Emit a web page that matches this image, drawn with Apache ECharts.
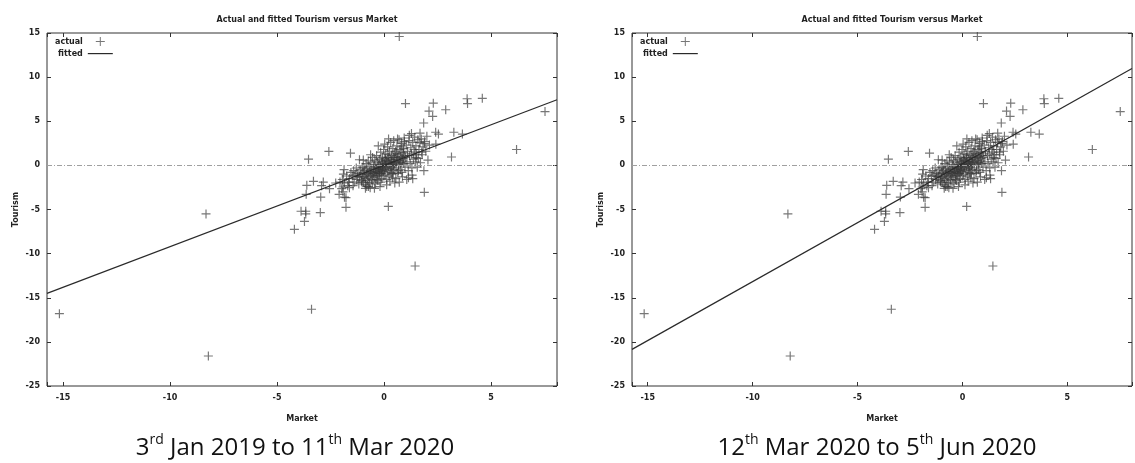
<!DOCTYPE html>
<html><head><meta charset="utf-8">
<script src="https://cdn.jsdelivr.net/npm/echarts@6/dist/echarts.min.js"></script>
<style>html,body{margin:0;padding:0;background:#fff}#c{width:1135px;height:463px}</style>
</head><body><div id="c"></div>
<script>
// ---------- data ----------
const chartTitle = 'Actual and fitted Tourism versus Market';
const xName = 'Market';
const yName = 'Tourism';
const subtitleLeft = '3{sup|rd} Jan 2019 to 11{sup|th} Mar 2020';
const subtitleRight = '12{sup|th} Mar 2020 to 5{sup|th} Jun 2020';
const xRange = [-15.75, 8.08];
const yRange = [-25, 15];
const yInterval = 5;

// outlying observations (Market, Tourism)
const actualOutliers = [
  [0.71,14.6],[1.0,7.0],[2.3,7.05],[2.88,6.3],[3.88,7.55],[3.9,7.0],[4.59,7.6],[2.1,6.15],[2.27,5.55],
  [1.85,4.8],[7.52,6.1],[6.19,1.8],[3.15,0.95],[3.26,3.75],[3.66,3.55],[2.41,3.75],[2.54,3.55],[2.42,2.4],
  [1.68,3.65],[1.28,3.6],[-3.53,0.7],[-2.58,1.58],[-1.57,1.38],[1.88,-3.05],[-8.32,-5.5],[-3.88,-5.2],
  [-3.66,-5.2],[-3.66,-5.5],[-3.72,-6.35],[-4.19,-7.25],[-2.98,-5.35],[-1.78,-4.75],[0.2,-4.65],
  [1.45,-11.4],[-3.39,-16.3],[-8.21,-21.6],[-15.17,-16.8]
];
// lower-left band of observations
const actualBand = [
  [-3.61,-2.26],[-3.3,-1.81],[-2.84,-1.89],[-3.64,-3.28],[-2.96,-3.59],[-2.55,-2.64],[-2.06,-1.89],
  [-1.98,-2.64],[-2.1,-3.28],[-1.78,-3.66],[-1.62,-2.53],[-1.15,0.64],[-1.87,-0.49],[-1.25,-1.25],
  [-1.04,-1.89],[-0.65,-2.53],[-0.81,-2.38],[1.14,-1.4],[1.34,-1.51],[1.5,0.87],[1.76,1.51],[1.88,2.46],
  [-2.26,-2.0],[-1.92,-2.45],[-1.92,-3.0],[-1.85,-3.6],[-2.92,-2.3],
  [-1.95,-1.6],[-1.85,-2.0],[-1.75,-1.2],[-1.7,-2.3],[-1.62,-1.5],[-1.55,-0.8],[-1.9,-1.0],[-1.66,-1.9]
];
// dense central cluster
const actualCluster = [
  [-1.48,-1.2],[-1.42,-0.6],[-1.4,-1.9],[-1.35,-1.1],[-1.3,-0.3],[-1.28,-1.6],[-1.22,-0.9],[-1.18,-2.1],
  [-1.15,-1.3],[-1.12,-0.5],[-1.08,-1.0],[-1.05,-1.7],[-1.02,-0.2],[-1.0,-1.4],[-1.45,-2.3],
  [-0.98,-0.8],[-0.96,-1.9],[-0.94,-0.3],[-0.92,-1.2],[-0.9,-0.6],[-0.88,-2.2],[-0.86,-1.5],[-0.84,0.2],
  [-0.82,-1.0],[-0.8,-0.4],[-0.78,-1.7],[-0.76,-0.9],[-0.74,0.5],[-0.72,-1.3],[-0.7,-0.1],[-0.68,-2.0],
  [-0.66,-0.7],[-0.64,-1.1],[-0.62,0.3],[-0.6,-0.5],[-0.58,-1.6],[-0.56,-0.8],[-0.54,0.9],[-0.52,-1.2],
  [-0.5,-0.3],[-0.97,0.6],[-0.87,-2.6],[-0.63,1.2],[-0.73,-2.4],[-0.55,-1.9],
  [-0.49,-0.9],[-0.47,0.1],[-0.46,-1.4],[-0.44,-0.5],[-0.43,0.6],[-0.41,-1.0],[-0.4,-2.1],[-0.38,-0.2],
  [-0.37,-0.7],[-0.35,1.1],[-0.34,-1.2],[-0.32,-0.4],[-0.31,0.4],[-0.29,-1.7],[-0.28,-0.8],[-0.26,0.0],
  [-0.25,-0.3],[-0.23,-1.1],[-0.22,0.7],[-0.2,-0.6],[-0.19,-2.4],[-0.17,-0.1],[-0.16,1.5],[-0.14,-0.9],
  [-0.13,0.3],[-0.11,-0.4],[-0.1,-1.5],[-0.08,0.9],[-0.07,-0.2],[-0.05,0.1],[-0.04,-0.7],[-0.02,1.8],
  [-0.01,-1.2],[-0.45,-2.6],[-0.27,2.2],[-0.15,-1.9],[-0.06,0.5],[-0.33,-1.6],[-0.21,-0.9],[-0.09,-0.5],
  [0.01,0.2],[0.02,-0.5],[0.04,0.8],[0.05,-1.0],[0.07,0.0],[0.08,1.3],[0.1,-0.3],[0.11,0.5],[0.13,-1.6],
  [0.14,0.2],[0.16,2.1],[0.17,-0.6],[0.19,0.9],[0.2,-0.1],[0.22,0.4],[0.23,-1.2],[0.25,1.6],[0.26,0.1],
  [0.28,-0.4],[0.29,0.7],[0.31,2.6],[0.32,-0.8],[0.34,0.3],[0.35,1.1],[0.37,-0.2],[0.38,0.6],[0.4,-1.4],
  [0.41,1.9],[0.43,0.0],[0.44,0.9],[0.46,-0.5],[0.47,0.4],[0.49,1.4],[0.5,-2.0],[0.03,2.4],[0.12,-2.2],
  [0.21,3.0],[0.27,-1.8],[0.36,-1.0],[0.45,2.8],[0.06,0.6],[0.18,1.2],[0.33,0.0],[0.42,-0.9],[0.48,0.2],
  [0.52,0.7],[0.54,1.6],[0.56,-0.3],[0.58,0.4],[0.6,2.2],[0.62,0.9],[0.64,-0.9],[0.66,1.2],[0.68,0.1],
  [0.7,2.9],[0.72,0.6],[0.74,1.8],[0.76,-0.5],[0.78,1.0],[0.8,0.3],[0.82,2.5],[0.84,1.4],[0.86,-1.3],
  [0.88,0.8],[0.9,1.9],[0.92,0.2],[0.94,3.1],[0.96,1.1],[0.98,-0.2],[0.55,-1.5],[0.63,3.0],[0.71,-1.9],
  [0.79,2.1],[0.87,0.5],[0.95,2.7],[0.59,1.3],[0.67,-0.6],[0.75,0.3],[0.83,-0.8],[0.91,1.5],
  [1.01,0.9],[1.04,2.3],[1.07,0.4],[1.1,1.6],[1.13,-0.6],[1.16,2.8],[1.19,1.1],[1.22,0.2],[1.25,2.0],
  [1.28,1.3],[1.31,-1.1],[1.34,2.6],[1.37,0.7],[1.4,1.8],[1.43,3.2],[1.46,0.4],[1.49,2.2],[1.52,1.2],
  [1.55,-0.2],[1.58,2.9],[1.06,-1.6],[1.18,3.4],[1.3,-0.3],[1.45,1.5],[1.6,0.8],
  [1.63,1.8],[1.67,2.6],[1.7,0.3],[1.74,3.0],[1.78,1.2],[1.82,2.1],[1.86,-0.6],[1.9,2.7],[1.95,1.6],
  [2.0,3.3],[2.05,0.6],[2.12,2.3]
];
// fitted regression lines: endpoints read at the plot edges
const fittedLeft = [[-15.75,-14.5],[8.08,7.44]];
const fittedRight = [[-15.75,-20.85],[8.08,10.97]];

// ---------- chart ----------
const actual = actualOutliers.concat(actualBand, actualCluster);
const FONT = 'DejaVu Sans';
const plusPath = 'path://M4,0h1.2v4h4v1.2h-4v4h-1.2v-4h-4v-1.2h4z';
const legendPlus = 'path://M0,0M25,9M12,0h1v4h4v1h-4v4h-1v-4h-4v-1h4z';
const legendLine = 'path://M0,0M25,9M0,4h25v1.2h-25z';
const tickLabel = v => (Math.abs(v % 5) < 1e-9 ? String(Math.round(v)) : '');

const panels = [
  {left: 47, off: 0, fitted: fittedLeft, sub: subtitleLeft, subX: 290},
  {left: 632, off: 585, fitted: fittedRight, sub: subtitleRight, subX: 872}
];

const option = {
  backgroundColor: '#fff', animation: false,
  title: [], grid: [], xAxis: [], yAxis: [], series: [], legend: []
};
const txt = {fontFamily: FONT, fontSize: 8, color: '#222', fontWeight: 'bold'};

panels.forEach((p, i) => {
  const W = 510, H = 353;
  option.grid.push({left: p.left, top: 33, width: W, height: H, show: true,
    borderColor: '#333', borderWidth: 1, backgroundColor: 'transparent'});
  option.title.push({text: chartTitle, left: p.left + W / 2, top: 11, textAlign: 'center',
    textStyle: {fontFamily: FONT, fontSize: 8, color: '#222', fontWeight: 'bold'}});
  option.title.push({text: p.sub, left: p.subX, top: 428, textAlign: 'center',
    textStyle: {fontFamily: 'Open Sans', fontSize: 24, color: '#111', fontWeight: 'normal', lineHeight: 30,
      rich: {sup: {fontFamily: 'Open Sans', fontSize: 14, color: '#111', lineHeight: 18, verticalAlign: 'top'}}}});
  const tick = {inside: true, length: 4, lineStyle: {color: '#333'}};
  const line = {show: false, onZero: false};
  option.xAxis.push({gridIndex: i, type: 'value', min: xRange[0], max: xRange[1], splitNumber: 5,
    position: 'bottom', name: xName, nameLocation: 'middle', nameGap: 29, nameTextStyle: txt,
    axisLine: line, axisTick: tick, splitLine: {show: false},
    axisLabel: Object.assign({margin: 8, formatter: tickLabel}, txt)});
  option.xAxis.push({gridIndex: i, type: 'value', min: xRange[0], max: xRange[1], splitNumber: 5,
    position: 'top', axisLine: line, axisTick: tick, splitLine: {show: false},
    axisLabel: {show: false}});
  option.yAxis.push({gridIndex: i, type: 'value', min: yRange[0], max: yRange[1], interval: yInterval,
    position: 'left', name: yName, nameLocation: 'middle', nameGap: 27, nameRotate: 90, nameTextStyle: txt,
    axisLine: line, axisTick: tick, splitLine: {show: false},
    axisLabel: Object.assign({margin: 7}, txt)});
  option.yAxis.push({gridIndex: i, type: 'value', min: yRange[0], max: yRange[1], interval: yInterval,
    position: 'right', axisLine: line, axisTick: tick, splitLine: {show: false},
    axisLabel: {show: false}});
  option.series.push({name: 'actual', type: 'scatter', xAxisIndex: 2 * i, yAxisIndex: 2 * i,
    data: actual, symbol: plusPath, symbolSize: 9, z: 2,
    itemStyle: {color: 'rgba(55,55,55,0.85)'},
    markLine: {silent: true, symbol: ['none', 'none'], label: {show: false},
      lineStyle: {color: '#a0a0a0', width: 1, type: [5, 2, 1, 2]}, data: [{yAxis: 0}]}});
  option.series.push({name: 'fitted', type: 'line', xAxisIndex: 2 * i, yAxisIndex: 2 * i,
    data: p.fitted, showSymbol: false, symbol: 'none', z: 3, clip: true,
    itemStyle: {color: '#2a2a2a'}, lineStyle: {color: '#2a2a2a', width: 1.2}});
  option.legend.push({left: 55 + p.off, top: 37, orient: 'vertical', align: 'right', itemGap: 3,
    itemWidth: 25, itemHeight: 9, selectedMode: false, padding: 0,
    textStyle: {fontFamily: FONT, fontSize: 8, color: '#222', fontWeight: 'bold', width: 30, align: 'right'},
    data: [{name: 'actual', icon: legendPlus}, {name: 'fitted', icon: legendLine}]});
});

const chart = echarts.init(document.getElementById('c'), null, {renderer: 'canvas'});
chart.setOption(option);
</script>
</body></html>
